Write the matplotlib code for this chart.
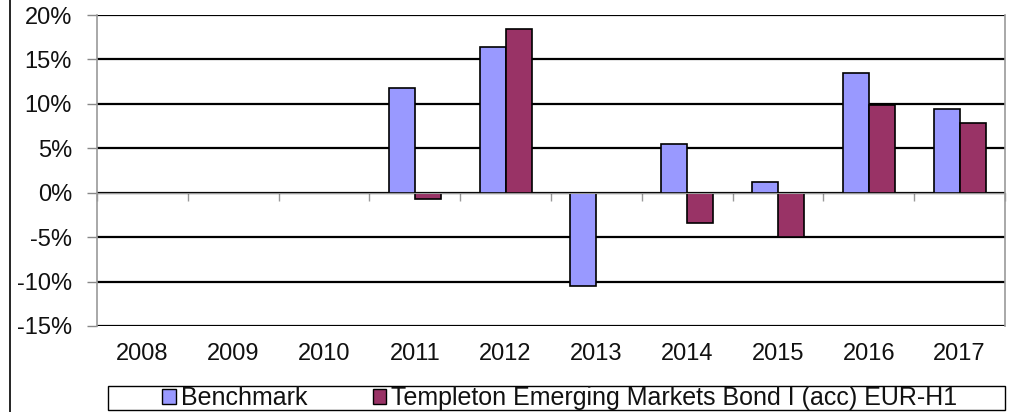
import numpy as np
import matplotlib
matplotlib.use("Agg")
from matplotlib import pyplot as plt
from matplotlib.patches import Rectangle
from matplotlib.lines import Line2D
from matplotlib.ticker import FuncFormatter

years = ["2008", "2009", "2010", "2011", "2012", "2013", "2014", "2015", "2016", "2017"]
benchmark = [np.nan, np.nan, np.nan, 11.8, 16.4, -10.5, 5.5, 1.2, 13.5, 9.4]
templeton = [np.nan, np.nan, np.nan, -0.7, 18.4, 0.0, -3.4, -5.0, 9.9, 7.9]
series_names = ["Benchmark", "Templeton Emerging Markets Bond I (acc) EUR-H1"]
colors = ["#9999FF", "#993366"]

plt.rcParams["font.family"] = ["Liberation Sans", "DejaVu Sans"]
txt_color = "#111111"

fig = plt.figure(figsize=(10.15, 4.12), dpi=100)
ax = fig.add_axes([97 / 1015, 1 - 326 / 412, (1005 - 97) / 1015, (326 - 15) / 412])

x = np.arange(len(years))
w = 0.286
ax.bar(x - w / 2, benchmark, w, color=colors[0], edgecolor="black", linewidth=1.2, zorder=3)
ax.bar(x + w / 2, templeton, w, color=colors[1], edgecolor="black", linewidth=1.2, zorder=3)

ax.set_xlim(-0.5, len(years) - 0.5)
ax.set_ylim(-15, 20)
ax.set_yticks(np.arange(-15, 21, 5))
ax.yaxis.set_major_formatter(FuncFormatter(lambda v, p: f"{v:.0f}%"))
ax.tick_params(axis="y", length=7, width=1, color="#888888", labelsize=17, labelcolor=txt_color, pad=11)
ax.yaxis.grid(True, color="black", linewidth=1.6, zorder=1)

# category axis sits on the zero line, ticks at the category boundaries
ax.spines["bottom"].set_position(("data", 0))
ax.spines["bottom"].set_color("#999999")
ax.spines["bottom"].set_zorder(4)
ax.set_xticks(np.arange(-0.5, len(years) - 0.5 + 0.01, 1))
ax.set_xticklabels([])
ax.tick_params(axis="x", direction="out", length=6, width=1, color="#999999")
for xi, lab in zip(x, years):
    ax.text(xi, -0.09, lab, transform=ax.get_xaxis_transform(), ha="center", va="center",
            fontsize=17, color=txt_color)

for side in ["left", "right"]:
    ax.spines[side].set_color("#999999")
    ax.spines[side].set_linewidth(1.2)
ax.spines["top"].set_visible(False)

# legend box
fig.patches.append(Rectangle((108 / 1015, 1 - 410 / 412), (1005 - 108) / 1015, 24 / 412,
                             transform=fig.transFigure, fill=False, edgecolor="black", linewidth=1))
handles = [Rectangle((0, 0), 1, 1, facecolor=c, edgecolor="black", linewidth=1) for c in colors]
fig.legend(handles, series_names, loc="center", bbox_to_anchor=(560 / 1015, 1 - 398 / 412),
           ncol=2, frameon=False, fontsize=18, handlelength=0.55, handleheight=0.55,
           handletextpad=0.2, columnspacing=2.6, borderpad=0, labelcolor=txt_color)

# left border of the original frame
fig.add_artist(Line2D([10 / 1015, 10 / 1015], [0, 1], transform=fig.transFigure, color="black", linewidth=1.2))

fig.savefig("out.png", dpi=100)
